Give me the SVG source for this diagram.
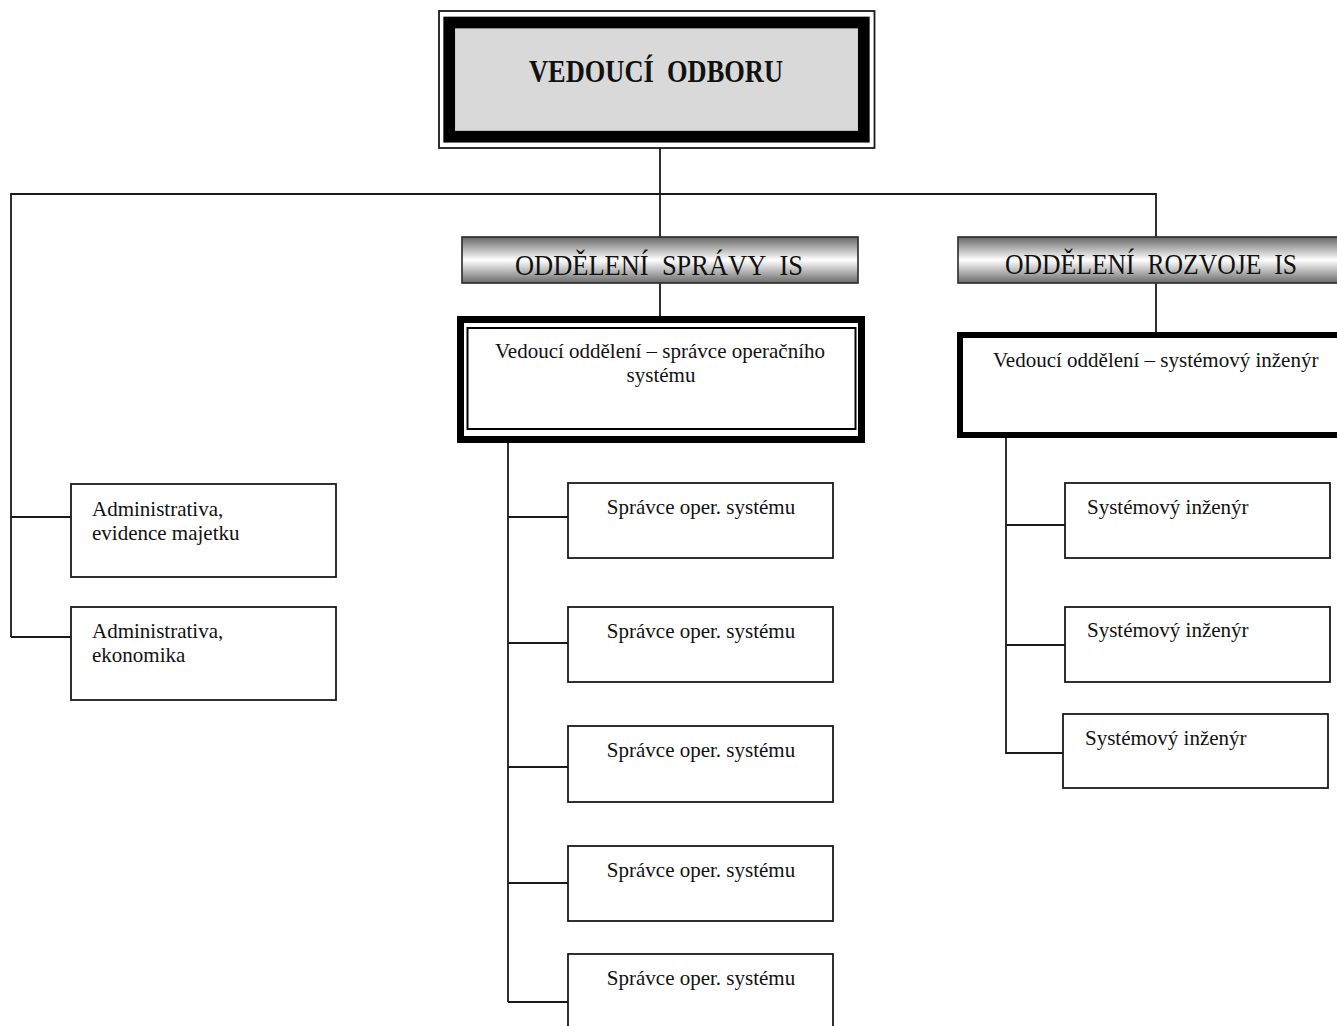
<svg xmlns="http://www.w3.org/2000/svg" width="1337" height="1026" viewBox="0 0 1337 1026">
<style>
text{font-family:"Liberation Serif","Times New Roman",serif;fill:#111}
.t{font-size:21px}
.c{text-anchor:middle}
.box{fill:#fff;stroke:#1a1a1a;stroke-width:1.8}
.ln{fill:none;stroke:#1a1a1a;stroke-width:1.8}
.dept{stroke:#2a2a2a;stroke-width:1.6;fill:url(#metal)}
.dt{font-size:29px}
</style>
<defs>
<linearGradient id="metal" x1="0" y1="0" x2="0" y2="1">
<stop offset="0" stop-color="#666666"/>
<stop offset="0.5" stop-color="#ffffff"/>
<stop offset="1" stop-color="#6a6a6a"/>
</linearGradient>
</defs>
<g id="connectors">
<path class="ln" d="M660 148V237M660 283V316M11 637V194H1156V237M1156 283V332"/>
<path class="ln" d="M11 517H71M11 637H71"/>
<path class="ln" d="M508 443V1002M508 517H568M508 643H568M508 767H568M508 883H568M508 1002H568"/>
<path class="ln" d="M1006 438V754M1006 525H1065M1006 645H1065M1006 753H1063"/>
</g>
<g id="head">
<rect x="439" y="11" width="435.5" height="137" fill="#fff" stroke="#1a1a1a" stroke-width="1.8"/>
<rect x="449.2" y="22.5" width="414.6" height="114.2" fill="#d9d9d9" stroke="#000" stroke-width="11.7"/>
<text x="656" y="82" font-size="31" font-weight="bold" class="c" textLength="254" lengthAdjust="spacingAndGlyphs">VEDOUCÍ&#160; ODBORU</text>
</g>
<g id="dept-sprava">
<rect class="dept" x="462" y="237" width="396" height="46"/>
<text class="dt c" x="659" y="275" textLength="288" lengthAdjust="spacingAndGlyphs">ODDĚLENÍ&#160; SPRÁVY&#160; IS</text>
</g>
<g id="dept-rozvoj">
<rect class="dept" x="958" y="237" width="400" height="46"/>
<text class="dt" x="1005" y="274" textLength="292" lengthAdjust="spacingAndGlyphs">ODDĚLENÍ&#160; ROZVOJE&#160; IS</text>
</g>
<g id="lead-sprava">
<rect x="460.5" y="319.5" width="401" height="120" fill="#fff" stroke="#000" stroke-width="7"/>
<rect x="467.5" y="328" width="388" height="101" fill="none" stroke="#000" stroke-width="2"/>
<text class="t c" x="660" y="358">Vedoucí oddělení – správce operačního</text>
<text class="t c" x="661" y="382">systému</text>
</g>
<g id="lead-rozvoj">
<rect x="960" y="335" width="420" height="100" fill="#fff" stroke="#000" stroke-width="6"/>
<text class="t" x="993" y="367">Vedoucí oddělení – systémový inženýr</text>
</g>
<g id="admin-1">
<rect class="box" x="71" y="484" width="265" height="93"/>
<text class="t" x="92" y="516">Administrativa,</text>
<text class="t" x="92" y="540">evidence majetku</text>
</g>
<g id="admin-2">
<rect class="box" x="71" y="607" width="265" height="93"/>
<text class="t" x="92" y="638">Administrativa,</text>
<text class="t" x="92" y="662">ekonomika</text>
</g>
<g id="spravce-1">
<rect class="box" x="568" y="483" width="265" height="75"/>
<text class="t c" x="701" y="514">Správce oper. systému</text>
</g>
<g id="spravce-2">
<rect class="box" x="568" y="607" width="265" height="75"/>
<text class="t c" x="701" y="638">Správce oper. systému</text>
</g>
<g id="spravce-3">
<rect class="box" x="568" y="726" width="265" height="76"/>
<text class="t c" x="701" y="757">Správce oper. systému</text>
</g>
<g id="spravce-4">
<rect class="box" x="568" y="846" width="265" height="75"/>
<text class="t c" x="701" y="877">Správce oper. systému</text>
</g>
<g id="spravce-5">
<rect class="box" x="568" y="954" width="265" height="90"/>
<text class="t c" x="701" y="985">Správce oper. systému</text>
</g>
<g id="inzenyr-1">
<rect class="box" x="1065" y="483" width="265" height="75"/>
<text class="t" x="1087" y="514">Systémový inženýr</text>
</g>
<g id="inzenyr-2">
<rect class="box" x="1065" y="607" width="265" height="75"/>
<text class="t" x="1087" y="637">Systémový inženýr</text>
</g>
<g id="inzenyr-3">
<rect class="box" x="1063" y="714" width="265" height="74"/>
<text class="t" x="1085" y="745">Systémový inženýr</text>
</g>
</svg>
